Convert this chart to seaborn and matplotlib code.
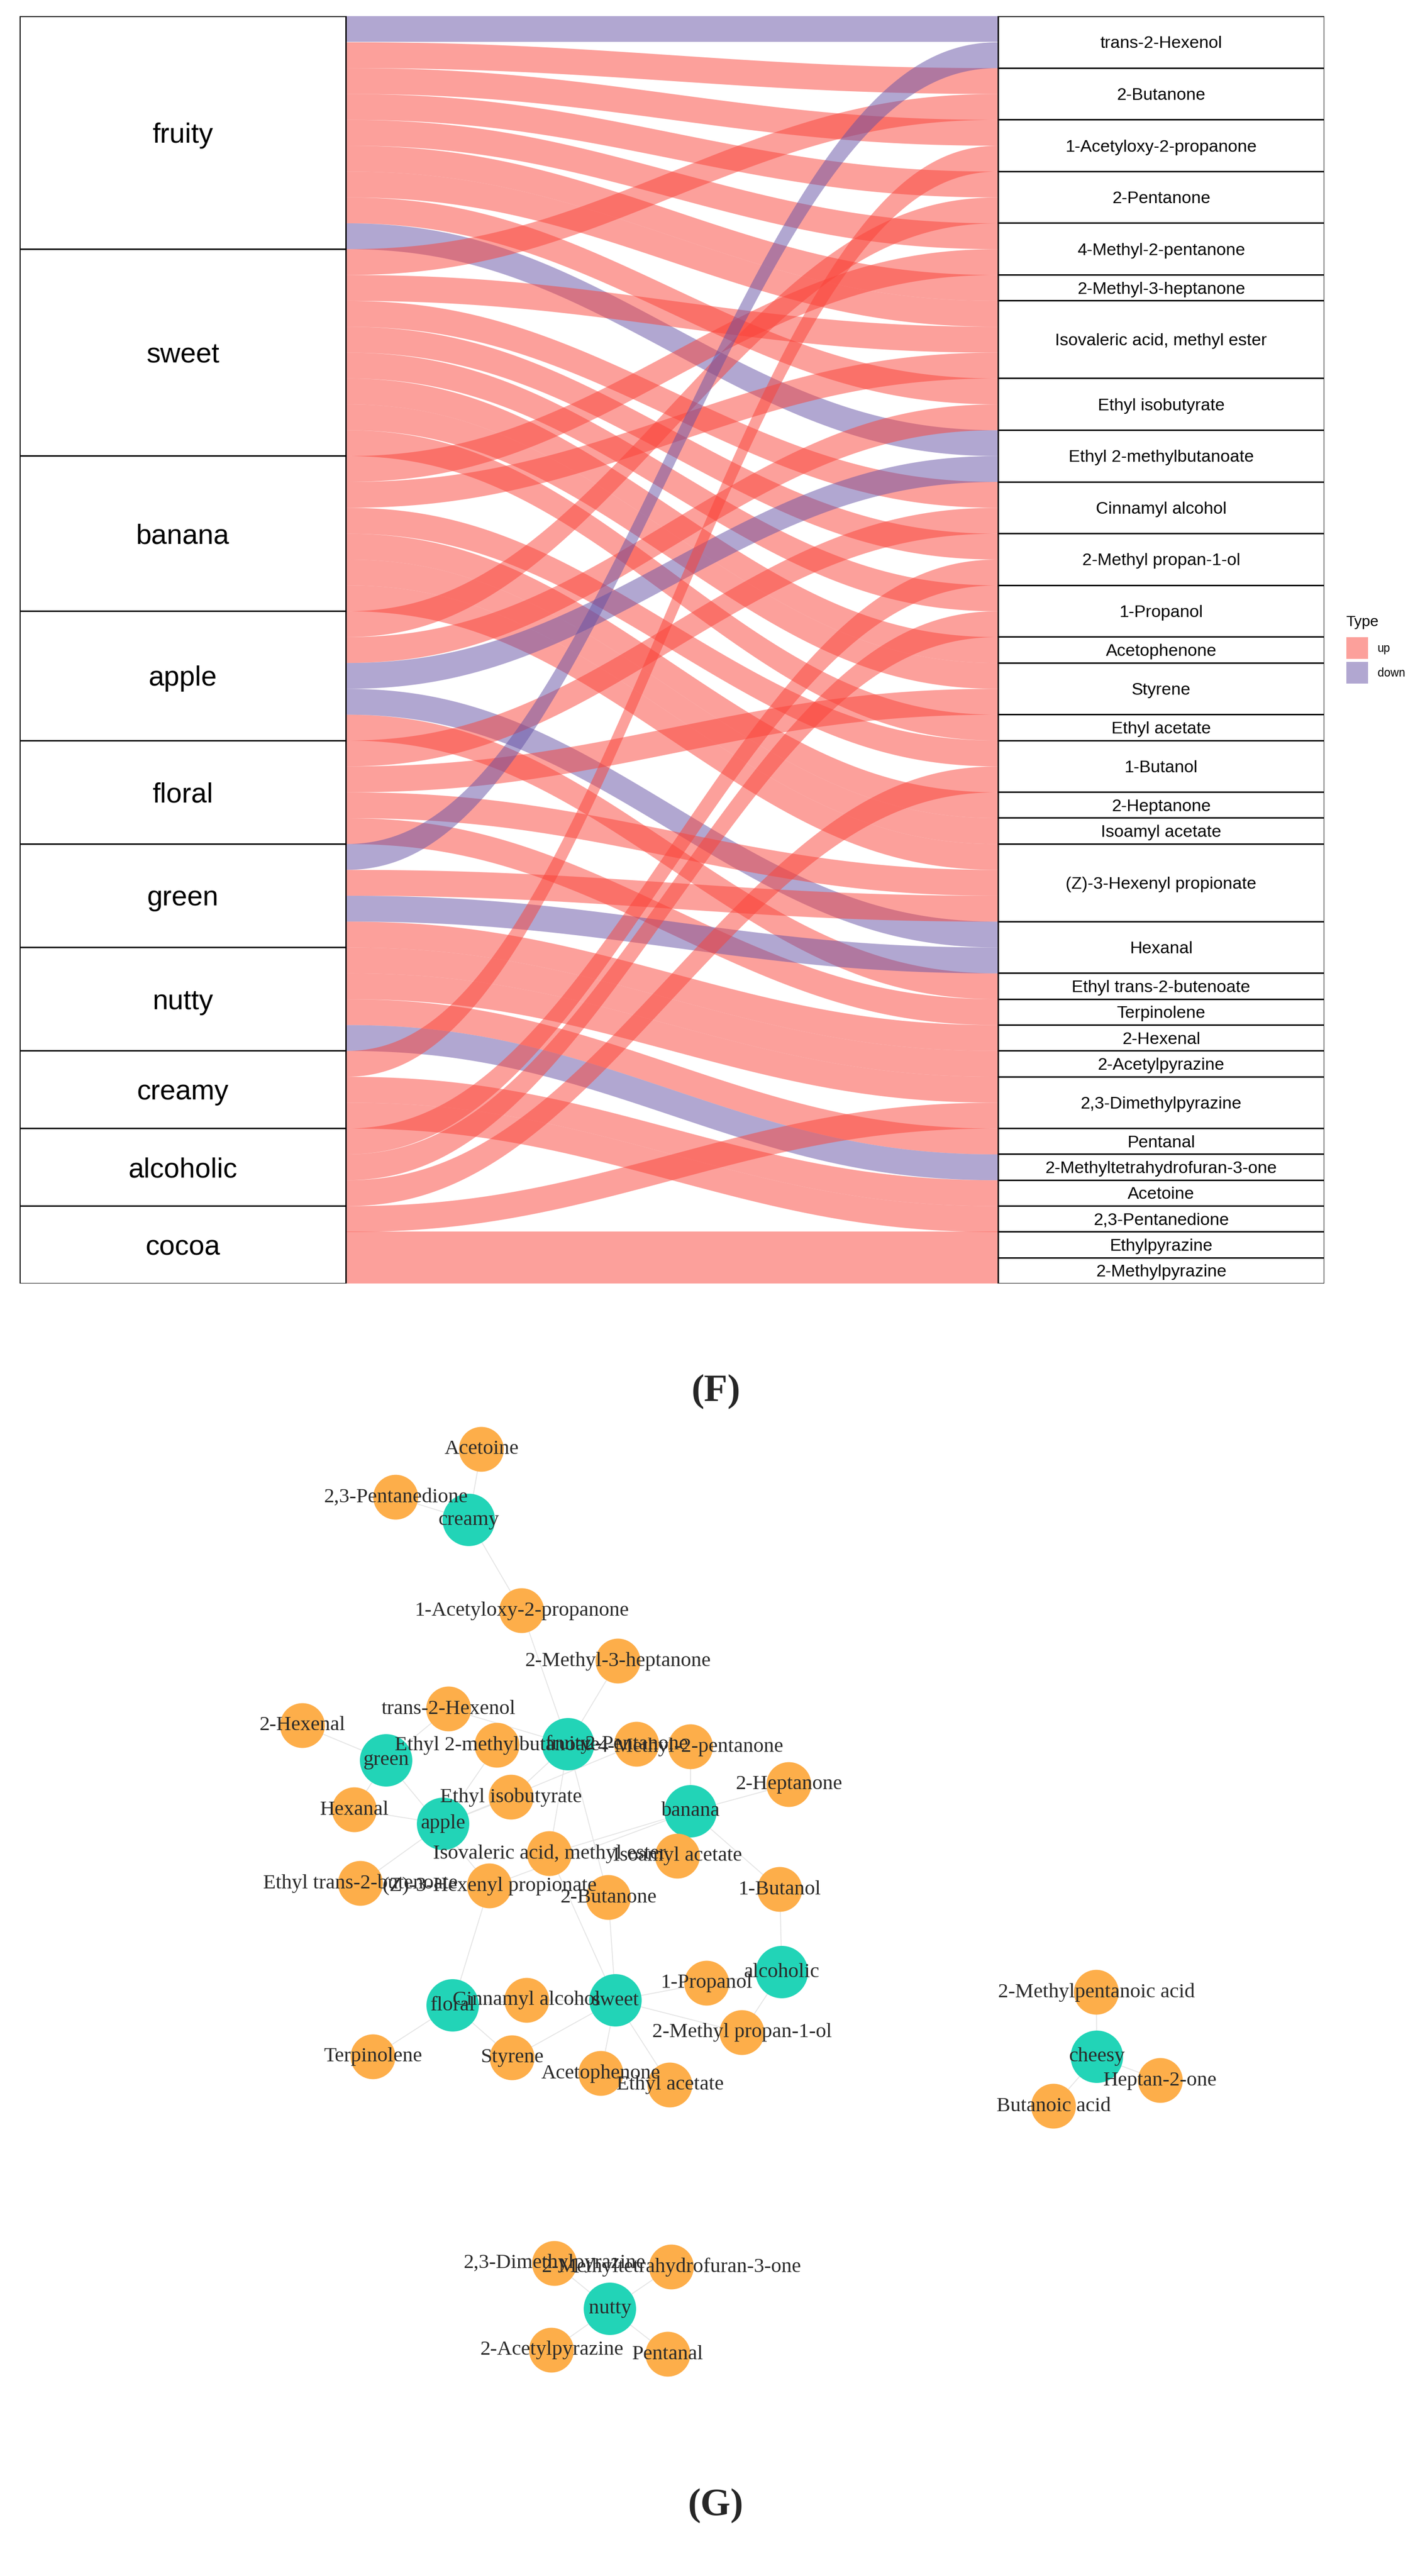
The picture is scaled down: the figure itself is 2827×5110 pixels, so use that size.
import numpy as np
import pandas as pd
import matplotlib
matplotlib.use("Agg")
import matplotlib.pyplot as plt
from matplotlib.patches import Rectangle
import seaborn as sns

# ---------------- data: alluvial (odor -> compound) ----------------
odors = ["fruity", "sweet", "banana", "apple", "floral", "green",
         "nutty", "creamy", "alcoholic", "cocoa"]
compounds = ["trans-2-Hexenol", "2-Butanone", "1-Acetyloxy-2-propanone",
             "2-Pentanone", "4-Methyl-2-pentanone", "2-Methyl-3-heptanone",
             "Isovaleric acid, methyl ester", "Ethyl isobutyrate",
             "Ethyl 2-methylbutanoate", "Cinnamyl alcohol",
             "2-Methyl propan-1-ol", "1-Propanol", "Acetophenone", "Styrene",
             "Ethyl acetate", "1-Butanol", "2-Heptanone", "Isoamyl acetate",
             "(Z)-3-Hexenyl propionate", "Hexanal", "Ethyl trans-2-butenoate",
             "Terpinolene", "2-Hexenal", "2-Acetylpyrazine",
             "2,3-Dimethylpyrazine", "Pentanal",
             "2-Methyltetrahydrofuran-3-one", "Acetoine", "2,3-Pentanedione",
             "Ethylpyrazine", "2-Methylpyrazine"]

fruity_links = ["trans-2-Hexenol", "2-Butanone", "1-Acetyloxy-2-propanone",
                "2-Pentanone", "4-Methyl-2-pentanone", "2-Methyl-3-heptanone",
                "Isovaleric acid, methyl ester", "Ethyl isobutyrate",
                "Ethyl 2-methylbutanoate"]
fruity_types = ["down", "up", "up", "up", "up", "up", "up", "up", "down"]
sweet_links = ["2-Butanone", "Isovaleric acid, methyl ester", "Cinnamyl alcohol",
               "2-Methyl propan-1-ol", "1-Propanol", "Acetophenone", "Styrene",
               "Ethyl acetate"]
sweet_types = ["up"] * 8
banana_links = ["4-Methyl-2-pentanone", "Isovaleric acid, methyl ester",
                "1-Butanol", "2-Heptanone", "Isoamyl acetate",
                "(Z)-3-Hexenyl propionate"]
banana_types = ["up"] * 6
apple_links = ["2-Pentanone", "Ethyl isobutyrate", "Ethyl 2-methylbutanoate",
               "Hexanal", "Ethyl trans-2-butenoate"]
apple_types = ["up", "up", "down", "down", "up"]
floral_links = ["Cinnamyl alcohol", "Styrene", "(Z)-3-Hexenyl propionate",
                "Terpinolene"]
floral_types = ["up"] * 4
green_links = ["trans-2-Hexenol", "(Z)-3-Hexenyl propionate", "Hexanal",
               "2-Hexenal"]
green_types = ["down", "up", "down", "up"]
nutty_links = ["2-Acetylpyrazine", "2,3-Dimethylpyrazine", "Pentanal",
               "2-Methyltetrahydrofuran-3-one"]
nutty_types = ["up", "up", "up", "down"]
creamy_links = ["1-Acetyloxy-2-propanone", "Acetoine", "2,3-Pentanedione"]
creamy_types = ["up"] * 3
alcoholic_links = ["2-Methyl propan-1-ol", "1-Propanol", "1-Butanol"]
alcoholic_types = ["up"] * 3
cocoa_links = ["2,3-Dimethylpyrazine", "Ethylpyrazine", "2-Methylpyrazine"]
cocoa_types = ["up"] * 3

type_levels = ["up", "down"]
type_fill = {"up": "#FA4339", "down": "#6551A5"}

# ---------------- data: network ----------------
net_names = ["Acetoine", "2,3-Pentanedione", "creamy", "1-Acetyloxy-2-propanone",
             "2-Methyl-3-heptanone", "trans-2-Hexenol", "2-Hexenal", "green",
             "Ethyl 2-methylbutanoate", "fruity", "2-Pentanone",
             "4-Methyl-2-pentanone", "2-Heptanone", "Hexanal",
             "Ethyl isobutyrate", "apple", "banana",
             "Isovaleric acid, methyl ester", "Isoamyl acetate",
             "Ethyl trans-2-butenoate", "(Z)-3-Hexenyl propionate",
             "2-Butanone", "1-Butanol", "alcoholic", "1-Propanol", "floral",
             "Cinnamyl alcohol", "sweet", "2-Methyl propan-1-ol",
             "Terpinolene", "Styrene", "Acetophenone", "Ethyl acetate",
             "2-Methylpentanoic acid", "cheesy", "Heptan-2-one",
             "Butanoic acid", "2,3-Dimethylpyrazine",
             "2-Methyltetrahydrofuran-3-one", "nutty", "2-Acetylpyrazine",
             "Pentanal"]
net_x = [955, 785, 930, 1035, 1226, 890, 600, 766, 986, 1127, 1263, 1370,
         1565, 703, 1014, 879, 1370, 1090, 1344, 715, 971, 1207, 1547, 1551,
         1402, 898, 1045, 1221, 1472, 740, 1016, 1192, 1329, 2175, 2176,
         2302, 2090, 1100, 1332, 1210, 1094, 1325]
net_y = [2875, 2970, 3015, 3195, 3295, 3390, 3423, 3492, 3462, 3460, 3460,
         3465, 3540, 3590, 3565, 3618, 3593, 3677, 3682, 3736, 3741, 3764,
         3748, 3912, 3934, 3978, 3968, 3968, 4032, 4080, 4082, 4113, 4136,
         3952, 4080, 4127, 4178, 4490, 4497, 4580, 4662, 4670]
net_odor_nodes = ["creamy", "green", "fruity", "apple", "banana", "alcoholic",
                  "floral", "sweet", "cheesy", "nutty"]
cheesy_links = ["2-Methylpentanoic acid", "Heptan-2-one", "Butanoic acid"]

# ---------------- build tables ----------------
link_lists = [fruity_links, sweet_links, banana_links, apple_links,
              floral_links, green_links, nutty_links, creamy_links,
              alcoholic_links, cocoa_links]
type_lists = [fruity_types, sweet_types, banana_types, apple_types,
              floral_types, green_types, nutty_types, creamy_types,
              alcoholic_types, cocoa_types]
rows = []
for od, links, types in zip(odors, link_lists, type_lists):
    for c, t in zip(links, types):
        rows.append((od, c, t))
flows = pd.DataFrame(rows, columns=["odor", "compound", "Type"])
flows["oi"] = flows["odor"].map({o: i for i, o in enumerate(odors)})
flows["ci"] = flows["compound"].map({c: i for i, c in enumerate(compounds)})

# lodes: inside each stratum, ordered by the stratum on the other axis
fl = flows.sort_values(["oi", "ci"]).reset_index()
fl["l0"] = np.arange(len(fl))
fl["l1"] = fl["l0"] + 1
fr = flows.sort_values(["ci", "oi"]).reset_index()
fr["r0"] = np.arange(len(fr))
fr["r1"] = fr["r0"] + 1
flows = flows.join(fl.set_index("index")[["l0", "l1"]]).join(
    fr.set_index("index")[["r0", "r1"]])
total = len(flows)

# ---------------- figure ----------------
sns.set_theme(style="white")
plt.rcParams["font.family"] = ["Liberation Sans", "DejaVu Sans"]
W, H = 2827, 5110
fig = plt.figure(figsize=(W / 100, H / 100), dpi=100)
fig.patch.set_facecolor("white")

# alluvial axes
px_l, px_r, px_t, px_b = 39, 2627, 32, 2546
ax1 = fig.add_axes([px_l / W, 1 - px_b / H, (px_r - px_l) / W, (px_b - px_t) / H])
sw = 1 / 3
ax1.set_xlim(1 - sw / 2, 2 + sw / 2)
ax1.set_ylim(total, 0)
ax1.axis("off")


def ease(t):
    s1 = 3 * t ** 2 - 2 * t ** 3
    s2 = 6 * t ** 5 - 15 * t ** 4 + 10 * t ** 3
    return 0.5 * (s1 + s2)


x0, x1 = 1 + sw / 2, 2 - sw / 2
tt = np.linspace(0, 1, 300)
xx = x0 + (x1 - x0) * tt
ss = ease(tt)
for _, r in flows.iterrows():
    ytop = r.l0 + (r.r0 - r.l0) * ss
    ybot = r.l1 + (r.r1 - r.l1) * ss
    ax1.fill_between(xx, ytop, ybot, color=type_fill[r.Type], alpha=0.5,
                     linewidth=0, zorder=1)

# strata
left_counts = flows.groupby("oi").size().reindex(range(len(odors))).values
right_counts = flows.groupby("ci").size().reindex(range(len(compounds))).values
y = 0
for name, n in zip(odors, left_counts):
    ax1.add_patch(Rectangle((1 - sw / 2, y), sw, n, facecolor="white",
                            edgecolor="black", linewidth=2.0, zorder=3))
    ax1.text(1, y + n / 2, name, ha="center", va="center_baseline",
             fontsize=40, color="black", zorder=4)
    y += n
y = 0
for name, n in zip(compounds, right_counts):
    ax1.add_patch(Rectangle((2 - sw / 2, y), sw, n, facecolor="white",
                            edgecolor="black", linewidth=2.0, zorder=3))
    ax1.text(2, y + n / 2, name, ha="center", va="center_baseline",
             fontsize=24.5, color="black", zorder=4)
    y += n

# overlay axes in pixel units for legend and panel letters
ax0 = fig.add_axes([0, 0, 1, 1], zorder=5)
ax0.set_xlim(0, W)
ax0.set_ylim(H, 0)
ax0.axis("off")
ax0.patch.set_alpha(0)
ax0.text(2670, 1234, "Type", ha="left", va="center", fontsize=21.5,
         color="black")
for i, lv in enumerate(type_levels):
    ax0.add_patch(Rectangle((2671, 1264 + 49 * i), 43, 43,
                            facecolor=type_fill[lv], alpha=0.5, linewidth=0))
    ax0.text(2733, 1286 + 49 * i, lv, ha="left", va="center", fontsize=16.5,
             color="black")
ax0.text(1420, 2760, "(F)", ha="center", va="center", fontsize=55,
         fontweight="bold", family=["Liberation Serif", "DejaVu Serif"])
ax0.text(1420, 4970, "(G)", ha="center", va="center", fontsize=55,
         fontweight="bold", family=["Liberation Serif", "DejaVu Serif"])

# network axes
ax2 = fig.add_axes([0, 0, 1, 1], zorder=2)
ax2.patch.set_alpha(0)
nodes = pd.DataFrame({"name": net_names, "x": net_x, "y": net_y})
nodes["kind"] = np.where(nodes["name"].isin(net_odor_nodes), "odor", "compound")
pos = {n: (x, y) for n, x, y in zip(net_names, net_x, net_y)}
edges = [(o, c) for o, c in zip(flows["odor"], flows["compound"])
         if o in pos and c in pos]
edges += [("cheesy", c) for c in cheesy_links]
for a, b in edges:
    ax2.plot([pos[a][0], pos[b][0]], [pos[a][1], pos[b][1]], color="#E4E4E4",
             linewidth=1.3, zorder=1)
sns.scatterplot(data=nodes, x="x", y="y", hue="kind", size="kind",
                palette={"odor": "#22D4B7", "compound": "#FDAE4A"},
                sizes={"odor": 5600, "compound": 4100}, linewidth=0,
                legend=False, ax=ax2, zorder=2)
ax2.set_xlim(0, W)
ax2.set_ylim(H, 0)
ax2.axis("off")
for n, x, y in zip(net_names, net_x, net_y):
    ax2.text(x, y, n, ha="center", va="center", fontsize=29.5, color="#2a2a2a",
             family=["Liberation Serif", "DejaVu Serif"], zorder=3)

fig.savefig("out.png", dpi=100, facecolor="white")
